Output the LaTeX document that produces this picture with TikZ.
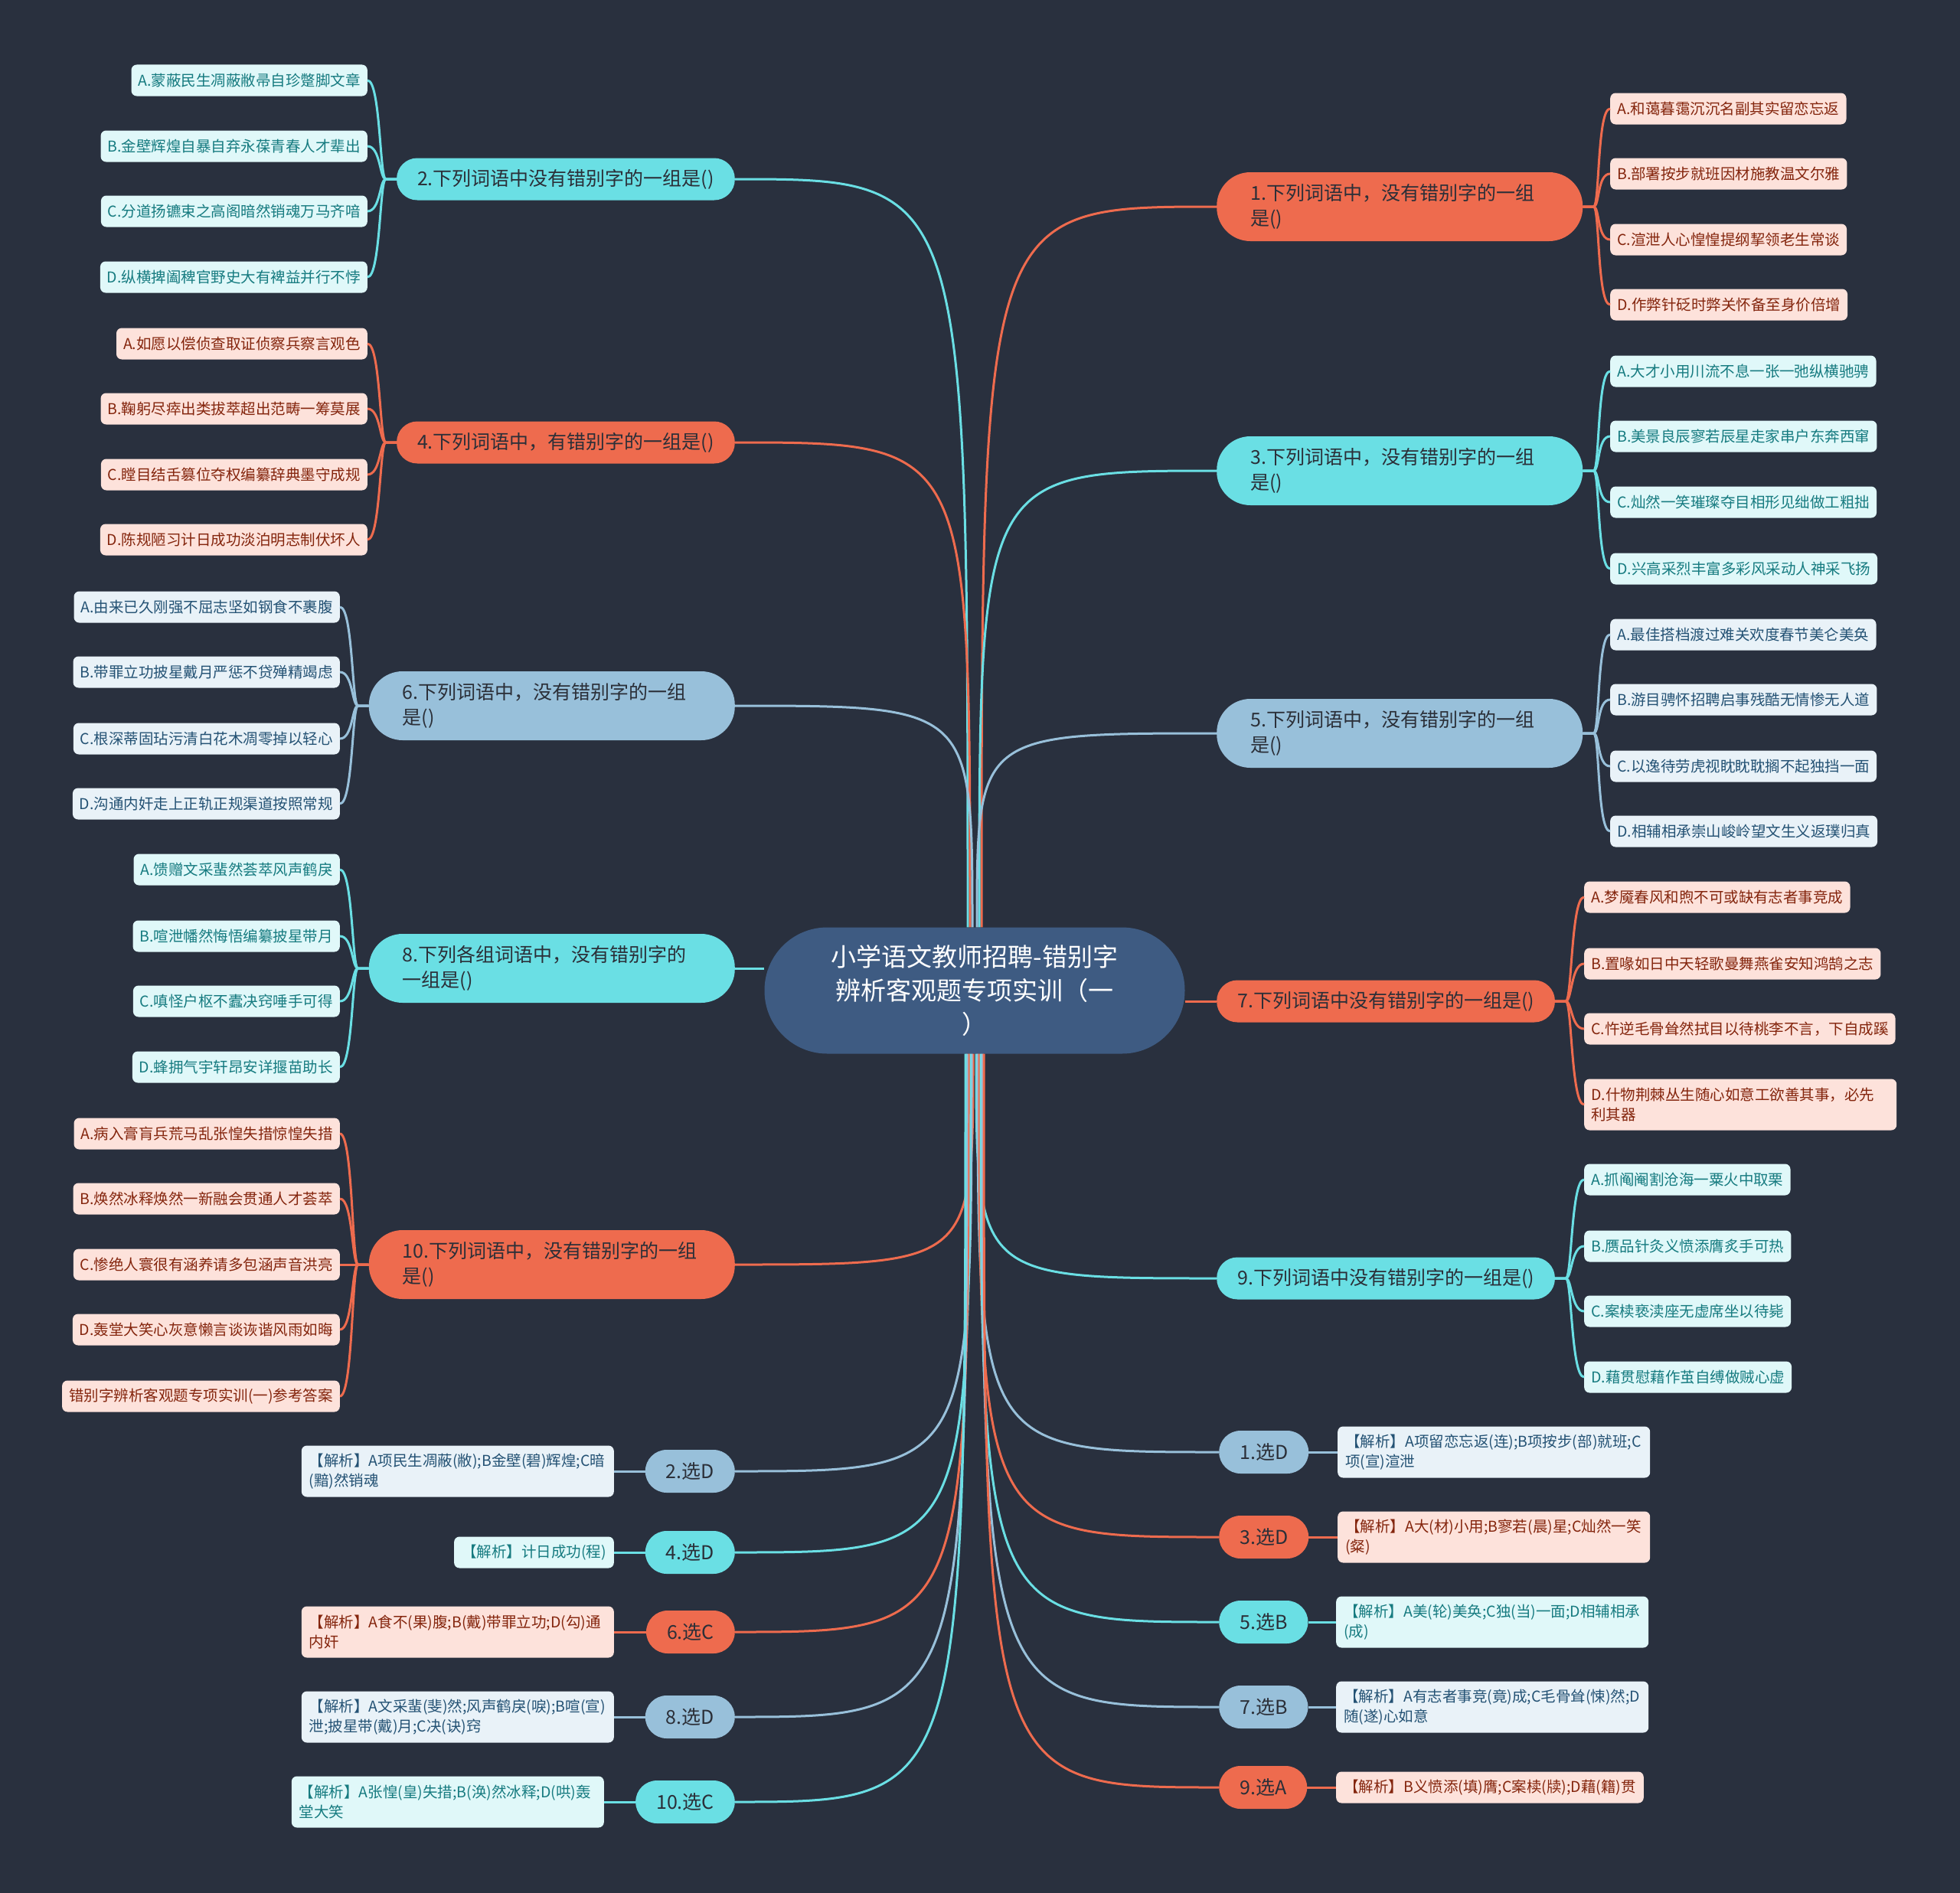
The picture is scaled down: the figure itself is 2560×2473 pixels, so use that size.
\documentclass[tikz,border=0pt]{standalone}
\usepackage{fontspec}
\setmainfont{Noto Sans CJK SC}
\usetikzlibrary{calc}
\definecolor{bg}{HTML}{29303E}
\definecolor{orng}{HTML}{EE6B4E}
\definecolor{cyn}{HTML}{6ADFE4}
\definecolor{lblu}{HTML}{98C0DA}
\definecolor{cntr}{HTML}{3E5B82}
\definecolor{ptext}{HTML}{2B2F38}
\definecolor{oleaf}{HTML}{FDE2DB}
\definecolor{otext}{HTML}{84250D}
\definecolor{cleaf}{HTML}{E0F8F9}
\definecolor{ctext}{HTML}{167B80}
\definecolor{bleaf}{HTML}{E9F2F8}
\definecolor{btext}{HTML}{245274}
\tikzset{
  conn/.style={line width=3pt},
  pill/.style={rounded corners=27pt, minimum height=55pt, inner xsep=27pt, inner ysep=0pt, text=ptext, font=\fontsize{25}{33}\selectfont},
  pilltwo/.style={rounded corners=44pt, minimum height=90pt, inner xsep=44pt, inner ysep=0pt, text width=390pt, align=left, text=ptext, font=\fontsize{25}{33}\selectfont},
  ans/.style={rounded corners=28pt, minimum height=56pt, inner xsep=27pt, inner ysep=0pt, text=ptext, font=\fontsize{25}{30}\selectfont},
  leaf/.style={rounded corners=7pt, minimum height=41pt, inner xsep=9pt, inner ysep=0pt, font=\fontsize{19.5}{26}\selectfont},
  leaftwo/.style={leaf, minimum height=67pt, text width=390pt, align=left},
  anab/.style={rounded corners=7pt, minimum height=41pt, inner xsep=10pt, inner ysep=0pt, font=\fontsize{19.5}{26}\selectfont},
  anatwo/.style={anab, minimum height=67pt, text width=388pt, align=left},
  oL/.style={fill=oleaf, text=otext},
  cL/.style={fill=cleaf, text=ctext},
  bL/.style={fill=bleaf, text=btext},
}
\begin{document}
\begin{tikzpicture}[x=1pt,y=-1pt]
\fill[bg] (0,0) rectangle (2560,2473);
\useasboundingbox (0,0) rectangle (2560,2473);

% center
\node[fill=cntr, rounded corners=82pt, minimum width=549pt, minimum height=165pt, align=center, text=white, font=\fontsize{33}{44}\selectfont] (c) at (1273,1294) {小学语文教师招聘-错别字\\辨析客观题专项实训（一\\）};

% main branches left
\node[pill, fill=cyn, anchor=east] (q2) at (960,234) {2.下列词语中没有错别字的一组是()};
\node[pill, fill=orng, anchor=east] (q4) at (960,578) {4.下列词语中，有错别字的一组是()};
\node[pilltwo, fill=lblu, anchor=east] (q6) at (960,922) {6.下列词语中，没有错别字的一组\\是()};
\node[pilltwo, fill=cyn, anchor=east] (q8) at (960,1265) {8.下列各组词语中，没有错别字的\\一组是()};
\node[pilltwo, fill=orng, anchor=east] (q10) at (960,1652) {10.下列词语中，没有错别字的一组\\是()};
% main branches right
\node[pilltwo, fill=orng, anchor=west] (q1) at (1589,270) {1.下列词语中，没有错别字的一组\\是()};
\node[pilltwo, fill=cyn, anchor=west] (q3) at (1589,615) {3.下列词语中，没有错别字的一组\\是()};
\node[pilltwo, fill=lblu, anchor=west] (q5) at (1589,958) {5.下列词语中，没有错别字的一组\\是()};
\node[pill, fill=orng, anchor=west] (q7) at (1589,1308) {7.下列词语中没有错别字的一组是()};
\node[pill, fill=cyn, anchor=west] (q9) at (1589,1670) {9.下列词语中没有错别字的一组是()};

% leaves Q2
\node[leaf, cL, anchor=east] (l2a) at (480,105) {A.蒙蔽民生凋蔽敝帚自珍蹩脚文章};
\node[leaf, cL, anchor=east] (l2b) at (480,191) {B.金壁辉煌自暴自弃永葆青春人才辈出};
\node[leaf, cL, anchor=east] (l2c) at (480,276) {C.分道扬镳束之高阁暗然销魂万马齐喑};
\node[leaf, cL, anchor=east] (l2d) at (480,362) {D.纵横捭阖稗官野史大有裨益并行不悖};
% leaves Q4
\node[leaf, oL, anchor=east] (l4a) at (480,449) {A.如愿以偿侦查取证侦察兵察言观色};
\node[leaf, oL, anchor=east] (l4b) at (480,534) {B.鞠躬尽瘁出类拔萃超出范畴一筹莫展};
\node[leaf, oL, anchor=east] (l4c) at (480,620) {C.瞠目结舌篡位夺权编纂辞典墨守成规};
\node[leaf, oL, anchor=east] (l4d) at (480,705) {D.陈规陋习计日成功淡泊明志制伏坏人};
% leaves Q6
\node[leaf, bL, anchor=east] (l6a) at (444,793) {A.由来已久刚强不屈志坚如钢食不裹腹};
\node[leaf, bL, anchor=east] (l6b) at (444,878) {B.带罪立功披星戴月严惩不贷殚精竭虑};
\node[leaf, bL, anchor=east] (l6c) at (444,965) {C.根深蒂固玷污清白花木凋零掉以轻心};
\node[leaf, bL, anchor=east] (l6d) at (444,1050) {D.沟通内奸走上正轨正规渠道按照常规};
% leaves Q8
\node[leaf, cL, anchor=east] (l8a) at (444,1136) {A.馈赠文采蜚然荟萃风声鹤戾};
\node[leaf, cL, anchor=east] (l8b) at (444,1223) {B.喧泄幡然悔悟编纂披星带月};
\node[leaf, cL, anchor=east] (l8c) at (444,1308) {C.嗔怪户枢不蠹决窍唾手可得};
\node[leaf, cL, anchor=east] (l8d) at (444,1394) {D.蜂拥气宇轩昂安详揠苗助长};
% leaves Q10
\node[leaf, oL, anchor=east] (l10a) at (444,1481) {A.病入膏肓兵荒马乱张惶失措惊惶失措};
\node[leaf, oL, anchor=east] (l10b) at (444,1566) {B.焕然冰释焕然一新融会贯通人才荟萃};
\node[leaf, oL, anchor=east] (l10c) at (444,1652) {C.惨绝人寰很有涵养请多包涵声音洪亮};
\node[leaf, oL, anchor=east] (l10d) at (444,1737) {D.轰堂大笑心灰意懒言谈诙谐风雨如晦};
\node[leaf, oL, anchor=east] (l10e) at (444,1824) {错别字辨析客观题专项实训(一)参考答案};
% leaves Q1
\node[leaf, oL, anchor=west] (l1a) at (2103,142) {A.和蔼暮霭沉沉名副其实留恋忘返};
\node[leaf, oL, anchor=west] (l1b) at (2103,227) {B.部署按步就班因材施教温文尔雅};
\node[leaf, oL, anchor=west] (l1c) at (2103,313) {C.渲泄人心惶惶提纲挈领老生常谈};
\node[leaf, oL, anchor=west] (l1d) at (2103,398) {D.作弊针砭时弊关怀备至身价倍增};
% leaves Q3
\node[leaf, cL, anchor=west] (l3a) at (2103,485) {A.大才小用川流不息一张一弛纵横驰骋};
\node[leaf, cL, anchor=west] (l3b) at (2103,570) {B.美景良辰寥若辰星走家串户东奔西窜};
\node[leaf, cL, anchor=west] (l3c) at (2103,656) {C.灿然一笑璀璨夺目相形见绌做工粗拙};
\node[leaf, cL, anchor=west] (l3d) at (2103,743) {D.兴高采烈丰富多彩风采动人神采飞扬};
% leaves Q5
\node[leaf, bL, anchor=west] (l5a) at (2103,829) {A.最佳搭档渡过难关欢度春节美仑美奂};
\node[leaf, bL, anchor=west] (l5b) at (2103,914) {B.游目骋怀招聘启事残酷无情惨无人道};
\node[leaf, bL, anchor=west] (l5c) at (2103,1001) {C.以逸待劳虎视眈眈耽搁不起独挡一面};
\node[leaf, bL, anchor=west] (l5d) at (2103,1086) {D.相辅相承崇山峻岭望文生义返璞归真};
% leaves Q7
\node[leaf, oL, anchor=west] (l7a) at (2069,1172) {A.梦魇春风和煦不可或缺有志者事竞成};
\node[leaf, oL, anchor=west] (l7b) at (2069,1259) {B.置喙如日中天轻歌曼舞燕雀安知鸿鹄之志};
\node[leaf, oL, anchor=west] (l7c) at (2069,1344) {C.忤逆毛骨耸然拭目以待桃李不言，下自成蹊};
\node[leaftwo, oL, anchor=west] (l7d) at (2069,1443) {D.什物荆棘丛生随心如意工欲善其事，必先\\利其器};
% leaves Q9
\node[leaf, cL, anchor=west] (l9a) at (2069,1541) {A.抓阄阉割沧海一粟火中取栗};
\node[leaf, cL, anchor=west] (l9b) at (2069,1628) {B.赝品针灸义愤添膺炙手可热};
\node[leaf, cL, anchor=west] (l9c) at (2069,1713) {C.案椟亵渎座无虚席坐以待毙};
\node[leaf, cL, anchor=west] (l9d) at (2069,1799) {D.藉贯慰藉作茧自缚做贼心虚};

% answers left
\node[ans, fill=lblu, anchor=east] (a2) at (960,1922) {2.选D};
\node[ans, fill=cyn, anchor=east] (a4) at (960,2028) {4.选D};
\node[ans, fill=orng, anchor=east] (a6) at (960,2132) {6.选C};
\node[ans, fill=lblu, anchor=east] (a8) at (960,2243) {8.选D};
\node[ans, fill=cyn, anchor=east] (a10) at (960,2354) {10.选C};
% answers right
\node[ans, fill=lblu, anchor=west] (a1) at (1592,1897) {1.选D};
\node[ans, fill=orng, anchor=west] (a3) at (1592,2008) {3.选D};
\node[ans, fill=cyn, anchor=west] (a5) at (1592,2119) {5.选B};
\node[ans, fill=lblu, anchor=west] (a7) at (1592,2230) {7.选B};
\node[ans, fill=orng, anchor=west] (a9) at (1592,2335) {9.选A};

% analysis left
\node[anatwo, bL, anchor=east] (n2) at (802,1922) {【解析】A项民生凋蔽(敝);B金壁(碧)辉煌;C暗\\(黯)然销魂};
\node[anab, cL, anchor=east] (n4) at (802,2028) {【解析】计日成功(程)};
\node[anatwo, oL, anchor=east] (n6) at (802,2132) {【解析】A食不(果)腹;B(戴)带罪立功;D(勾)通\\内奸};
\node[anatwo, bL, anchor=east] (n8) at (802,2243) {【解析】A文采蜚(斐)然;风声鹤戾(唳);B喧(宣)\\泄;披星带(戴)月;C决(诀)窍};
\node[anatwo, cL, anchor=east] (n10) at (789,2354) {【解析】A张惶(皇)失措;B(涣)然冰释;D(哄)轰\\堂大笑};
% analysis right
\node[anatwo, bL, anchor=west] (n1) at (1747,1897) {【解析】A项留恋忘返(连);B项按步(部)就班;C\\项(宣)渲泄};
\node[anatwo, oL, anchor=west] (n3) at (1747,2008) {【解析】A大(材)小用;B寥若(晨)星;C灿然一笑\\(粲)};
\node[anatwo, cL, anchor=west] (n5) at (1745,2119) {【解析】A美(轮)美奂;C独(当)一面;D相辅相承\\(成)};
\node[anatwo, bL, anchor=west] (n7) at (1745,2230) {【解析】A有志者事竞(竟)成;C毛骨耸(悚)然;D\\随(遂)心如意};
\node[anab, oL, anchor=west] (n9) at (1745,2335) {【解析】B义愤添(填)膺;C案椟(牍);D藉(籍)贯};

% connectors from center (top)
\coordinate (t2) at ($(c.north)+(-9,0)$);
\coordinate (t4) at ($(c.north)+(-6,0)$);
\coordinate (t6) at ($(c.north)+(-3,0)$);
\coordinate (t1) at ($(c.north)+(9,0)$);
\coordinate (t3) at ($(c.north)+(6,0)$);
\coordinate (t5) at ($(c.north)+(3,0)$);
\draw[conn, cyn] (t2) .. controls (t2 |- q2.east) .. (q2.east);
\draw[conn, orng] (t4) .. controls (t4 |- q4.east) .. (q4.east);
\draw[conn, lblu] (t6) .. controls (t6 |- q6.east) .. (q6.east);
\draw[conn, orng] (t1) .. controls (t1 |- q1.west) .. (q1.west);
\draw[conn, cyn] (t3) .. controls (t3 |- q3.west) .. (q3.west);
\draw[conn, lblu] (t5) .. controls (t5 |- q5.west) .. (q5.west);
\draw[conn, cyn] (c.west |- q8.east) -- (q8.east);
\draw[conn, orng] (c.east |- q7.west) -- (q7.west);
% connectors from center (bottom)
\coordinate (b10) at ($(c.south)+(-2,0)$);
\coordinate (ba2) at ($(c.south)+(-4,0)$);
\coordinate (ba4) at ($(c.south)+(-6,0)$);
\coordinate (ba6) at ($(c.south)+(-8,0)$);
\coordinate (ba8) at ($(c.south)+(-10,0)$);
\coordinate (ba10) at ($(c.south)+(-12,0)$);
\coordinate (b9) at ($(c.south)+(2,0)$);
\coordinate (ba1) at ($(c.south)+(4,0)$);
\coordinate (ba3) at ($(c.south)+(6,0)$);
\coordinate (ba5) at ($(c.south)+(8,0)$);
\coordinate (ba7) at ($(c.south)+(10,0)$);
\coordinate (ba9) at ($(c.south)+(12,0)$);
\draw[conn, orng] (b10) .. controls (b10 |- q10.east) .. (q10.east);
\draw[conn, cyn] (b9) .. controls (b9 |- q9.west) .. (q9.west);
\draw[conn, lblu] (ba2) .. controls (ba2 |- a2.east) .. (a2.east);
\draw[conn, cyn] (ba4) .. controls (ba4 |- a4.east) .. (a4.east);
\draw[conn, orng] (ba6) .. controls (ba6 |- a6.east) .. (a6.east);
\draw[conn, lblu] (ba8) .. controls (ba8 |- a8.east) .. (a8.east);
\draw[conn, cyn] (ba10) .. controls (ba10 |- a10.east) .. (a10.east);
\draw[conn, lblu] (ba1) .. controls (ba1 |- a1.west) .. (a1.west);
\draw[conn, orng] (ba3) .. controls (ba3 |- a3.west) .. (a3.west);
\draw[conn, cyn] (ba5) .. controls (ba5 |- a5.west) .. (a5.west);
\draw[conn, lblu] (ba7) .. controls (ba7 |- a7.west) .. (a7.west);
\draw[conn, orng] (ba9) .. controls (ba9 |- a9.west) .. (a9.west);

% answer to analysis
\draw[conn, lblu] (a2.west) -- (n2.east);
\draw[conn, cyn] (a4.west) -- (n4.east);
\draw[conn, orng] (a6.west) -- (n6.east);
\draw[conn, lblu] (a8.west) -- (n8.east);
\draw[conn, cyn] (a10.west) -- (n10.east);
\draw[conn, lblu] (a1.east) -- (n1.west);
\draw[conn, orng] (a3.east) -- (n3.west);
\draw[conn, cyn] (a5.east) -- (n5.west);
\draw[conn, lblu] (a7.east) -- (n7.west);
\draw[conn, orng] (a9.east) -- (n9.west);

% leaf brackets left
\foreach \l in {l2a,l2b,l2c,l2d}
  \draw[conn, cyn] (q2.west) -- ++(-14,0) .. controls +(-8,0) and +(17,0) .. (\l.east);
\foreach \l in {l4a,l4b,l4c,l4d}
  \draw[conn, orng] (q4.west) -- ++(-14,0) .. controls +(-8,0) and +(17,0) .. (\l.east);
\foreach \l in {l6a,l6b,l6c,l6d}
  \draw[conn, lblu] (q6.west) -- ++(-14,0) .. controls +(-8,0) and +(17,0) .. (\l.east);
\foreach \l in {l8a,l8b,l8c,l8d}
  \draw[conn, cyn] (q8.west) -- ++(-14,0) .. controls +(-8,0) and +(17,0) .. (\l.east);
\foreach \l in {l10a,l10b,l10c,l10d,l10e}
  \draw[conn, orng] (q10.west) -- ++(-14,0) .. controls +(-8,0) and +(17,0) .. (\l.east);
% leaf brackets right
\foreach \l in {l1a,l1b,l1c,l1d}
  \draw[conn, orng] (q1.east) -- ++(14,0) .. controls +(8,0) and +(-17,0) .. (\l.west);
\foreach \l in {l3a,l3b,l3c,l3d}
  \draw[conn, cyn] (q3.east) -- ++(14,0) .. controls +(8,0) and +(-17,0) .. (\l.west);
\foreach \l in {l5a,l5b,l5c,l5d}
  \draw[conn, lblu] (q5.east) -- ++(14,0) .. controls +(8,0) and +(-17,0) .. (\l.west);
\foreach \l in {l7a,l7b,l7c,l7d}
  \draw[conn, orng] (q7.east) -- ++(14,0) .. controls +(8,0) and +(-17,0) .. (\l.west);
\foreach \l in {l9a,l9b,l9c,l9d}
  \draw[conn, cyn] (q9.east) -- ++(14,0) .. controls +(8,0) and +(-17,0) .. (\l.west);
\end{tikzpicture}
\end{document}
